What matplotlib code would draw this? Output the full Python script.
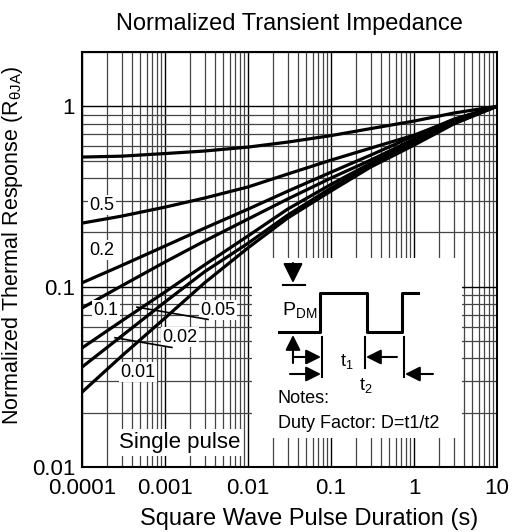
import numpy as np
import matplotlib
matplotlib.use('Agg')
import matplotlib.pyplot as plt
from matplotlib.ticker import LogLocator, NullFormatter

plt.rcParams['font.family'] = ['Liberation Sans', 'DejaVu Sans']
plt.rcParams['mathtext.fontset'] = 'custom'
plt.rcParams['mathtext.rm'] = 'Liberation Sans'
plt.rcParams['mathtext.it'] = 'Liberation Sans'

# pulse duration (s) where the curves were read
t = [1e-4, 3e-4, 1e-3, 3e-3, 1e-2, 3e-2, 0.1, 0.3, 1, 3, 10]

# normalized thermal response
d_05 = [0.523, 0.529, 0.547, 0.565, 0.594, 0.633, 0.688, 0.752, 0.828, 0.917, 1.0]
d_02 = [0.225, 0.246, 0.276, 0.310, 0.357, 0.421, 0.503, 0.586, 0.692, 0.838, 1.0]
d_01 = [0.105, 0.131, 0.168, 0.211, 0.269, 0.338, 0.431, 0.536, 0.685, 0.848, 1.0]
d_005 = [0.0761, 0.101, 0.137, 0.179, 0.237, 0.306, 0.400, 0.503, 0.658, 0.828, 1.0]
d_002 = [0.0457, 0.0645, 0.0934, 0.132, 0.191, 0.269, 0.369, 0.483, 0.641, 0.818, 1.0]
d_001 = [0.0358, 0.0532, 0.0822, 0.121, 0.174, 0.249, 0.352, 0.472, 0.625, 0.807, 1.0]
single = [0.026, 0.0412, 0.067, 0.105, 0.164, 0.240, 0.339, 0.460, 0.609, 0.797, 1.0]

xticks = [1e-4, 1e-3, 1e-2, 1e-1, 1, 10]
xlabels = ['0.0001', '0.001', '0.01', '0.1', '1', '10']
yticks = [0.01, 0.1, 1]
ylabels = ['0.01', '0.1', '1']

fig = plt.figure(figsize=(5.22, 5.32), dpi=100)
ax = fig.add_axes([82 / 522, 65 / 532, 415 / 522, 415 / 532])
ax.set_xscale('log')
ax.set_yscale('log')
ax.set_xlim(1e-4, 10)
ax.set_ylim(0.01, 2)

for s in [d_05, d_02, d_01, d_005, d_002, d_001, single]:
    ax.plot(t, s, color='black', lw=2.3, zorder=3, solid_capstyle='butt')

ax.set_xticks(xticks)
ax.set_xticklabels(xlabels)
ax.set_yticks(yticks)
ax.set_yticklabels(ylabels)
ax.xaxis.set_minor_locator(LogLocator(base=10, subs=np.arange(2, 10)))
ax.yaxis.set_minor_locator(LogLocator(base=10, subs=np.arange(2, 10)))
ax.xaxis.set_minor_formatter(NullFormatter())
ax.yaxis.set_minor_formatter(NullFormatter())
ax.tick_params(which='both', length=0, labelsize=16)
ax.tick_params(axis='x', pad=8)
ax.tick_params(axis='y', pad=5)
ax.grid(which='major', color='black', lw=1.0, zorder=1)
ax.grid(which='minor', color='#444444', lw=0.9, zorder=1)
for sp in ax.spines.values():
    sp.set_linewidth(1.5)

ax.set_title('Normalized Transient Impedance', fontsize=17, pad=16)
ax.set_xlabel('Square Wave Pulse Duration (s)', fontsize=17)
ax.xaxis.set_label_coords(0.547, -0.098)
ax.set_ylabel(r'Normalized Thermal Response (R$_{\mathrm{\theta JA}}$)', fontsize=15.5)
ax.yaxis.set_label_coords(-0.138, 0.535)

# curve labels
box = dict(facecolor='white', edgecolor='none', pad=1)
ax.text(1.74e-4, 0.282, '0.5', fontsize=13, ha='center', va='center', bbox=box, zorder=4)
ax.text(1.74e-4, 0.159, '0.2', fontsize=13, ha='center', va='center', bbox=box, zorder=4)
ax.text(1.95e-4, 0.0739, '0.1', fontsize=13, ha='center', va='center', bbox=box, zorder=4)
ax.text(4.34e-3, 0.0739, '0.05', fontsize=13, ha='center', va='center', bbox=box, zorder=4)
ax.text(1.52e-3, 0.0524, '0.02', fontsize=13, ha='center', va='center', bbox=box, zorder=4)
ax.text(4.73e-4, 0.0336, '0.01', fontsize=13, ha='center', va='center', bbox=box, zorder=4)
ax.text(1.52e-3, 0.0137, 'Single pulse', fontsize=16, ha='center', va='center',
        bbox=dict(facecolor='white', edgecolor='none', pad=2), zorder=4)
ax.plot([4.6e-4, 3.3e-3], [0.0770, 0.0658], color='black', lw=1.2, zorder=4)
ax.plot([2.5e-4, 1.21e-3], [0.0521, 0.0460], color='black', lw=1.2, zorder=4)

# inset with the pulse sketch, coordinates in pixels of the box
ins = ax.inset_axes([0.4096, 0.0699, 0.506, 0.4337])
ins.set_xlim(0, 210)
ins.set_ylim(180, 0)
ins.set_xticks([])
ins.set_yticks([])
for sp in ins.spines.values():
    sp.set_visible(False)
ins.set_facecolor('white')


def arrow(a, x0, y0, x1, y1, ms=15):
    a.annotate('', xy=(x1, y1), xytext=(x0, y0),
               arrowprops=dict(arrowstyle='-|>,head_length=0.6,head_width=0.3',
                               color='black', lw=1.5, shrinkA=0, shrinkB=0,
                               mutation_scale=ms))


ins.plot([27, 68, 68, 115, 115, 150, 150, 166], [74, 74, 35, 35, 74, 74, 35, 35],
         color='black', lw=2.2)
arrow(ins, 41, 5, 41, 25, ms=20)
ins.plot([31, 53], [27, 27], color='black', lw=1.5)
arrow(ins, 41, 105, 41, 77)
arrow(ins, 41, 99, 69, 99)
arrow(ins, 38, 116, 69, 116)
arrow(ins, 145, 99, 114, 99)
arrow(ins, 181, 116, 153, 116)
ins.plot([70, 70], [79, 119], color='black', lw=1.5)
ins.plot([113, 113], [79, 110], color='black', lw=1.5)
ins.plot([152, 152], [79, 119], color='black', lw=1.5)
ins.text(30, 52, r'P$_{\mathrm{DM}}$', fontsize=14, ha='left', va='center')
ins.text(95, 104, r't$_1$', fontsize=13, ha='center', va='center')
ins.text(114, 128, r't$_2$', fontsize=13, ha='center', va='center')
ins.text(26, 141, 'Notes:', fontsize=13, ha='left', va='center')
ins.text(26, 166, 'Duty Factor: D=t1/t2', fontsize=13, ha='left', va='center')

fig.savefig('out.png', dpi=100)
